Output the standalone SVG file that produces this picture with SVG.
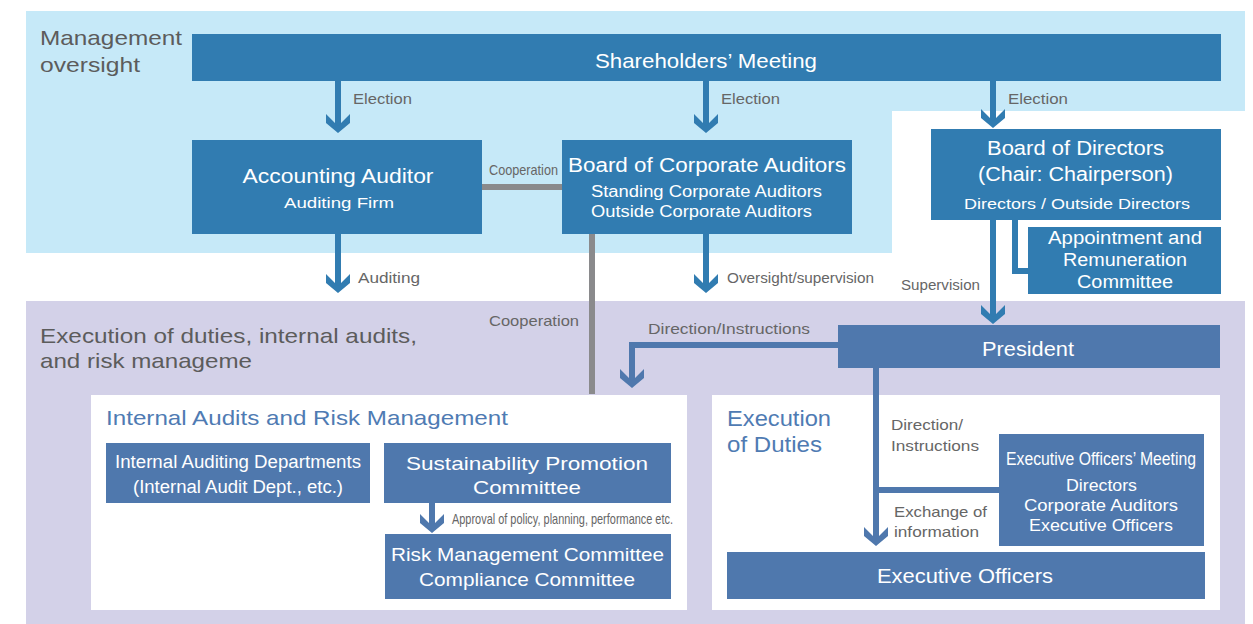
<svg xmlns="http://www.w3.org/2000/svg" width="1253" height="624" viewBox="0 0 1253 624">
<style>
text{font-family:"Liberation Sans",Arial,sans-serif}
.w{fill:#fff}
.c{text-anchor:middle}
.lbl{fill:#666;font-size:14.5px}
.sec{fill:#5c5c5c;font-size:21px}
.ttl{fill:#4f7bb3}
.boxA{fill:#317cb1}
.boxB{fill:#4f78ad}
.lnA{stroke:#317cb1;stroke-width:6;fill:none}
.lnB{stroke:#4f78ad;stroke-width:6;fill:none}
.lnG{stroke:#8a8a8c;stroke-width:6;fill:none}
</style>
<defs>
<marker id="ahA" markerUnits="userSpaceOnUse" markerWidth="20" markerHeight="26" viewBox="0 -13 20 26" refX="14" refY="0" orient="auto"><path d="M0,-12 L12,0 L0,12 L9,12 L19,0 L9,-12 Z" fill="#317cb1"/></marker>
<marker id="ahB" markerUnits="userSpaceOnUse" markerWidth="20" markerHeight="26" viewBox="0 -13 20 26" refX="14" refY="0" orient="auto"><path d="M0,-12 L12,0 L0,12 L9,12 L19,0 L9,-12 Z" fill="#4f78ad"/></marker>
</defs>
<rect width="1253" height="624" fill="#fff"/>
<g id="backgrounds">
<path d="M26,11 H1245 V111 H892 V253 H26 Z" fill="#c6e9f8"/>
<rect x="26" y="301" width="1219" height="323" fill="#d3d1e8"/>
<rect x="91" y="395" width="596" height="215" fill="#fff"/>
<rect x="712" y="395" width="508" height="215" fill="#fff"/>
<text class="sec" x="40" y="45" textLength="142" lengthAdjust="spacingAndGlyphs">Management</text>
<text class="sec" x="40" y="72" textLength="100" lengthAdjust="spacingAndGlyphs">oversight</text>
<text class="sec" x="40" y="343" textLength="377" lengthAdjust="spacingAndGlyphs">Execution of duties, internal audits,</text>
<text class="sec" x="40" y="368" textLength="212" lengthAdjust="spacingAndGlyphs">and risk manageme</text>
<text class="ttl" x="106" y="425" font-size="21" textLength="402" lengthAdjust="spacingAndGlyphs">Internal Audits and Risk Management</text>
<text class="ttl" x="727" y="426" font-size="22" textLength="104" lengthAdjust="spacingAndGlyphs">Execution</text>
<text class="ttl" x="727" y="452" font-size="22" textLength="95" lengthAdjust="spacingAndGlyphs">of Duties</text>
</g>
<g id="connectors">
<line class="lnA" x1="338" y1="81" x2="338" y2="128" marker-end="url(#ahA)"/>
<line class="lnA" x1="706" y1="81" x2="706" y2="128" marker-end="url(#ahA)"/>
<line class="lnA" x1="993" y1="81" x2="993" y2="123" marker-end="url(#ahA)"/>
<line class="lnA" x1="338" y1="234" x2="338" y2="288" marker-end="url(#ahA)"/>
<line class="lnA" x1="706" y1="234" x2="706" y2="288" marker-end="url(#ahA)"/>
<line class="lnA" x1="993" y1="220" x2="993" y2="319" marker-end="url(#ahA)"/>
<path class="lnA" d="M1015,220 V271 H1028"/>
<line class="lnG" x1="482" y1="187" x2="562" y2="187"/>
<line class="lnG" x1="592" y1="234" x2="592" y2="394"/>
<path class="lnB" d="M838,345 H632 V383" marker-end="url(#ahB)"/>
<line class="lnB" x1="876" y1="368" x2="876" y2="541" marker-end="url(#ahB)"/>
<line class="lnB" x1="876" y1="490" x2="999" y2="490"/>
<line class="lnB" x1="432" y1="503" x2="432" y2="528" marker-end="url(#ahB)"/>
<text class="lbl" x="353" y="104" textLength="59" lengthAdjust="spacingAndGlyphs">Election</text>
<text class="lbl" x="721" y="104" textLength="59" lengthAdjust="spacingAndGlyphs">Election</text>
<text class="lbl" x="1008" y="104" textLength="60" lengthAdjust="spacingAndGlyphs">Election</text>
<text class="lbl" x="489" y="175" font-size="13" textLength="69" lengthAdjust="spacingAndGlyphs">Cooperation</text>
<text class="lbl" x="358" y="283" textLength="62" lengthAdjust="spacingAndGlyphs">Auditing</text>
<text class="lbl" x="727" y="283" textLength="147" lengthAdjust="spacingAndGlyphs">Oversight/supervision</text>
<text class="lbl" x="901" y="290" textLength="79" lengthAdjust="spacingAndGlyphs">Supervision</text>
<text class="lbl" x="489" y="326" font-size="15" textLength="90" lengthAdjust="spacingAndGlyphs">Cooperation</text>
<text class="lbl" x="648" y="334" font-size="15" textLength="162" lengthAdjust="spacingAndGlyphs">Direction/Instructions</text>
<text class="lbl" x="452" y="524" font-size="12.5" textLength="221" lengthAdjust="spacingAndGlyphs">Approval of policy, planning, performance etc.</text>
<text class="lbl" x="891" y="430" font-size="15.5" textLength="72" lengthAdjust="spacingAndGlyphs">Direction/</text>
<text class="lbl" x="891" y="451" font-size="15.5" textLength="88" lengthAdjust="spacingAndGlyphs">Instructions</text>
<text class="lbl" x="894" y="517" font-size="15.5" textLength="93" lengthAdjust="spacingAndGlyphs">Exchange of</text>
<text class="lbl" x="894" y="537" font-size="15.5" textLength="85" lengthAdjust="spacingAndGlyphs">information</text>
</g>
<g id="shareholders">
<rect class="boxA" x="192" y="34" width="1029" height="47"/>
<text class="w c" x="706" y="68" font-size="21" textLength="222" lengthAdjust="spacingAndGlyphs">Shareholders’ Meeting</text>
</g>
<g id="accounting-auditor">
<rect class="boxA" x="192" y="140" width="290" height="94"/>
<text class="w c" x="338" y="183" font-size="20" textLength="191" lengthAdjust="spacingAndGlyphs">Accounting Auditor</text>
<text class="w c" x="339" y="208" font-size="15.5" textLength="110" lengthAdjust="spacingAndGlyphs">Auditing Firm</text>
</g>
<g id="board-corporate-auditors">
<rect class="boxA" x="562" y="140" width="290" height="94"/>
<text class="w c" x="707" y="172" font-size="20" textLength="278" lengthAdjust="spacingAndGlyphs">Board of Corporate Auditors</text>
<text class="w" x="591" y="197" font-size="16" textLength="231" lengthAdjust="spacingAndGlyphs">Standing Corporate Auditors</text>
<text class="w" x="591" y="217" font-size="16" textLength="221" lengthAdjust="spacingAndGlyphs">Outside Corporate Auditors</text>
</g>
<g id="board-directors">
<rect class="boxA" x="931" y="129" width="290" height="91"/>
<text class="w c" x="1075.5" y="155" font-size="19.5" textLength="177" lengthAdjust="spacingAndGlyphs">Board of Directors</text>
<text class="w c" x="1075.5" y="181" font-size="19.5" textLength="195" lengthAdjust="spacingAndGlyphs">(Chair: Chairperson)</text>
<text class="w c" x="1077" y="209" font-size="15.5" textLength="226" lengthAdjust="spacingAndGlyphs">Directors / Outside Directors</text>
</g>
<g id="appointment-committee">
<rect class="boxA" x="1028" y="227" width="193" height="67"/>
<text class="w c" x="1125" y="244" font-size="18" textLength="154" lengthAdjust="spacingAndGlyphs">Appointment and</text>
<text class="w c" x="1125" y="266" font-size="18" textLength="124" lengthAdjust="spacingAndGlyphs">Remuneration</text>
<text class="w c" x="1125" y="288" font-size="18" textLength="96" lengthAdjust="spacingAndGlyphs">Committee</text>
</g>
<g id="president">
<rect class="boxB" x="838" y="325" width="382" height="43"/>
<text class="w c" x="1028" y="356" font-size="19.5" textLength="92" lengthAdjust="spacingAndGlyphs">President</text>
</g>
<g id="internal-auditing">
<rect class="boxB" x="106" y="443" width="264" height="60"/>
<text class="w c" x="238" y="468" font-size="18" textLength="246" lengthAdjust="spacingAndGlyphs">Internal Auditing Departments</text>
<text class="w c" x="238" y="493" font-size="18" textLength="210" lengthAdjust="spacingAndGlyphs">(Internal Audit Dept., etc.)</text>
</g>
<g id="sustainability">
<rect class="boxB" x="384" y="443" width="287" height="60"/>
<text class="w c" x="527" y="470" font-size="19" textLength="242" lengthAdjust="spacingAndGlyphs">Sustainability Promotion</text>
<text class="w c" x="527" y="494" font-size="19" textLength="108" lengthAdjust="spacingAndGlyphs">Committee</text>
</g>
<g id="risk-compliance">
<rect class="boxB" x="385" y="534" width="286" height="65"/>
<text class="w c" x="527.5" y="561" font-size="19" textLength="273" lengthAdjust="spacingAndGlyphs">Risk Management Committee</text>
<text class="w c" x="527" y="586" font-size="19" textLength="216" lengthAdjust="spacingAndGlyphs">Compliance Committee</text>
</g>
<g id="executive-meeting">
<rect class="boxB" x="999" y="434" width="205" height="112"/>
<text class="w c" x="1101" y="465" font-size="17.5" textLength="190" lengthAdjust="spacingAndGlyphs">Executive Officers’ Meeting</text>
<text class="w c" x="1101.5" y="491" font-size="16" textLength="71" lengthAdjust="spacingAndGlyphs">Directors</text>
<text class="w c" x="1101" y="511" font-size="16" textLength="154" lengthAdjust="spacingAndGlyphs">Corporate Auditors</text>
<text class="w c" x="1101" y="531" font-size="16" textLength="144" lengthAdjust="spacingAndGlyphs">Executive Officers</text>
</g>
<g id="executive-officers">
<rect class="boxB" x="727" y="552" width="478" height="47"/>
<text class="w c" x="965" y="583" font-size="19.5" textLength="176" lengthAdjust="spacingAndGlyphs">Executive Officers</text>
</g>
</svg>
